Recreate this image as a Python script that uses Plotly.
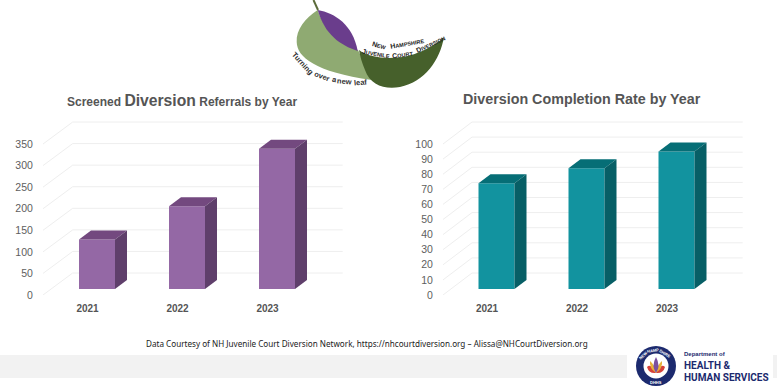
import plotly.graph_objects as go

# Chart data
years = ["2021", "2022", "2023"]
referrals = [115, 192, 325]
completion = [70, 80, 91]
referral_ticks = [0, 50, 100, 150, 200, 250, 300, 350]
completion_ticks = [0, 10, 20, 30, 40, 50, 60, 70, 80, 90, 100]

W, H = 777, 386
GRID = "#eeeeee"
TICK = "#5e5e5e"


def fx(x):
    return x / W


def fy(y):
    return 1 - y / H


def svg_path(cmds):
    """Build a paper-space SVG path from commands given in pixels."""
    parts = []
    for cmd in cmds:
        letter, pts = cmd[0], cmd[1:]
        coords = " ".join(f"{fx(p[0]):.5f},{fy(p[1]):.5f}" for p in pts)
        parts.append(f"{letter} {coords}".strip())
    return " ".join(parts)


shapes, annotations, traces = [], [], []


def chart(values, ticks, px_per_unit, bar0_px, suffix, left_px, right_px, grid_x0, grid_x1,
          front_x0, colors, layout):
    """One pseudo-3D column chart: back wall, floor diagonals, then the columns."""
    unit_px = 90.0  # horizontal pixels per category
    xa, ya = "x" + suffix, "y" + suffix
    to_x = lambda p: (p - bar0_px) / unit_px
    back_dy = 22 / px_per_unit
    for t in ticks:
        shapes.append(dict(type="line", layer="below", xref=xa, yref=ya,
                           x0=to_x(grid_x0), x1=to_x(grid_x1), y0=t + back_dy, y1=t + back_dy,
                           line=dict(color=GRID, width=1)))
        shapes.append(dict(type="line", layer="below", xref=xa, yref=ya,
                           x0=to_x(front_x0), x1=to_x(grid_x0), y0=t, y1=t + back_dy,
                           line=dict(color=GRID, width=1)))
    positions = list(range(len(values)))
    half = 18 / unit_px
    dx, dy = 12 / unit_px, 9 / px_per_unit
    base = 6 / px_per_unit
    traces.append(go.Bar(x=positions, y=values, base=[base] * len(values), width=half * 2,
                         marker=dict(color=colors[0], line=dict(width=0)),
                         xaxis=xa, yaxis=ya, showlegend=False, hoverinfo="skip"))
    for p, v in zip(positions, values):
        top = base + v
        # top face
        traces.append(go.Scatter(
            x=[p - half, p + half, p + half + dx, p - half + dx, p - half],
            y=[top, top, top + dy, top + dy, top],
            fill="toself", fillcolor=colors[1], mode="none",
            xaxis=xa, yaxis=ya, showlegend=False, hoverinfo="skip"))
        # side face
        traces.append(go.Scatter(
            x=[p + half, p + half + dx, p + half + dx, p + half, p + half],
            y=[base, base + dy, top + dy, top, base],
            fill="toself", fillcolor=colors[2], mode="none",
            xaxis=xa, yaxis=ya, showlegend=False, hoverinfo="skip"))
    top_px = 108
    common = dict(showgrid=False, zeroline=False, showline=False, fixedrange=True)
    layout["xaxis" + suffix] = dict(
        common, domain=[fx(left_px), fx(right_px)], anchor=ya,
        range=[to_x(left_px), to_x(right_px)],
        tickmode="array", tickvals=[p - 0.105 for p in positions], ticktext=years,
        ticks="outside", ticklen=4, tickcolor="rgba(0,0,0,0)",
        tickfont=dict(family="Liberation Sans", size=10, color="#555555", weight="bold"))
    layout["yaxis" + suffix] = dict(
        common, domain=[fy(295), fy(top_px)], anchor=xa,
        range=[0, (295 - top_px) / px_per_unit],
        tickmode="array", tickvals=ticks, ticktext=[str(t) for t in ticks],
        ticks="outside", ticklen=1, tickcolor="rgba(0,0,0,0)",
        tickfont=dict(family="Liberation Sans", size=10.5, color=TICK))


layout = dict(
    width=W, height=H, autosize=False, margin=dict(l=0, r=0, t=0, b=0, autoexpand=False),
    paper_bgcolor="white", plot_bgcolor="rgba(0,0,0,0)", barmode="overlay", showlegend=False,
)

chart(referrals, referral_ticks, 21.57 / 50, 97, "", 37, 345, 72.7, 342.7, 43,
      ("#9468A5", "#73497F", "#5F3F6B"), layout)
chart(completion, completion_ticks, 1.51, 496.5, "2", 437, 745, 472, 742.7, 443,
      ("#12939F", "#066E76", "#075F66"), layout)


def note(text, x, y, size, color="#555555", family="Liberation Sans", rot=0, anchor="center", weight=None):
    font = dict(family=family, size=size, color=color)
    if weight:
        font["weight"] = weight
    annotations.append(dict(text=text, xref="paper", yref="paper", x=fx(x), y=fy(y),
                            xanchor=anchor, yanchor="middle", showarrow=False, textangle=rot,
                            font=font))


def blob(cmds, fill, layer="below"):
    shapes.append(dict(type="path", layer=layer, xref="paper", yref="paper",
                       path=svg_path(cmds), fillcolor=fill, line=dict(width=0)))


# Chart titles
note('Screened <span style="font-size:15.7px">Diversion</span> Referrals by Year',
     182, 100, 12, weight="bold")
note("Diversion Completion Rate by Year", 581.7, 99, 14.3, weight="bold")

# Source line and footer band
note("Data Courtesy of NH Juvenile Court Diversion Network, https://nhcourtdiversion.org – "
     "Alissa@NHCourtDiversion.org", 366.5, 343, 8.15, color="#222222", family="Noto Sans")
for x0, x1 in ((0, 627), (773, 777)):
    shapes.append(dict(type="rect", layer="below", xref="paper", yref="paper",
                       x0=fx(x0), x1=fx(x1), y0=fy(378), y1=fy(355),
                       fillcolor="#f2f2f2", line=dict(width=0)))

# Leaf emblem at the top centre
blob([("M", (317.7, 10)), ("C", (305, 18), (296, 30), (296.7, 42)),
      ("C", (297, 57), (315, 72), (372, 80)),
      ("L", (358, 50)),
      ("C", (343, 45), (325, 33), (317.7, 10)), ("Z",)], "#8FAA72")
blob([("M", (317.7, 10)), ("C", (335, 13), (353, 25), (357.7, 51)),
      ("C", (340, 45), (325, 35), (317.7, 10)), ("Z",)], "#6A3D8C")
blob([("M", (359, 50)), ("C", (372, 60), (400, 60), (417, 53)),
      ("C", (428, 49), (438, 43), (444, 37)),
      ("C", (440, 60), (425, 82), (400, 87)),
      ("C", (385, 90), (370, 85), (365, 70)),
      ("C", (362, 63), (360, 56), (359, 50)), ("Z",)], "#46602B")
shapes.append(dict(type="path", layer="below", xref="paper", yref="paper",
                   path=svg_path([("M", (313.5, 0)), ("L", (318, 10))]),
                   line=dict(color="#5C6B3A", width=2)))

for word, x, y, rot in (("Turning", 302.7, 63.3, 47), ("over", 322.3, 76.7, 20), ("a", 334, 80, 12),
                        ("new", 344.3, 82, 5), ("leaf", 360.3, 82.7, -5)):
    note(word, x, y, 7.5, color="#333333", rot=rot, weight="bold")
small = "<span style='font-size:5.5px'>{}</span>"
for cap, rest, x, y, rot in (("N", "EW", 379.3, 45.7, 15), ("H", "AMPSHIRE", 406.7, 43.3, -10),
                             ("J", "UVENILE", 376, 53, 10), ("C", "OURT", 402.7, 54, -8),
                             ("D", "IVERSION", 430, 44.3, -25)):
    note(cap + small.format(rest), x, y, 7, color="#222222", rot=rot, weight="bold")

# Department seal and wordmark
navy = "#1C2A6E"
shapes.append(dict(type="circle", xref="paper", yref="paper", layer="above",
                   x0=fx(636), x1=fx(676), y0=fy(386), y1=fy(346),
                   fillcolor=navy, line=dict(width=0)))
shapes.append(dict(type="circle", xref="paper", yref="paper", layer="above",
                   x0=fx(643.5), x1=fx(668.5), y0=fy(378.5), y1=fy(353.5),
                   fillcolor="white", line=dict(width=0)))
blob([("M", (647, 367)), ("Q", (651, 363), (656, 373)), ("Q", (649, 374), (647, 367)), ("Z",)], "#D6423B", "above")
blob([("M", (665, 367)), ("Q", (661, 363), (656, 373)), ("Q", (663, 374), (665, 367)), ("Z",)], "#D6423B", "above")
blob([("M", (650, 361)), ("Q", (655, 365), (656, 373)), ("Q", (649, 368), (650, 361)), ("Z",)], "#E8B23A", "above")
blob([("M", (662, 361)), ("Q", (657, 365), (656, 373)), ("Q", (663, 368), (662, 361)), ("Z",)], "#E8B23A", "above")
blob([("M", (656, 357)), ("Q", (661, 366), (656, 373)), ("Q", (651, 366), (656, 357)), ("Z",)], "#7A4FA0", "above")
for word, x, y, rot in (("NEW", 643, 355, -42), ("HAMP", 653, 350, -8), ("SHIRE", 665, 353, 32),
                        ("DHHS", 656, 382, 0)):
    note(word, x, y, 4, color="white", rot=rot, weight="bold")
note("Department of", 682, 353.5, 6, color=navy, anchor="left", weight="bold")
note("HEALTH &amp;", 681.5, 365, 10, color=navy, family="Roboto", anchor="left", weight="bold")
note("HUMAN SERVICES", 681.5, 377, 10, color=navy, family="Roboto", anchor="left", weight="bold")

layout["shapes"] = shapes
layout["annotations"] = annotations

fig = go.Figure(data=traces, layout=layout)
fig.write_html("out.html", config={"displayModeBar": False})
